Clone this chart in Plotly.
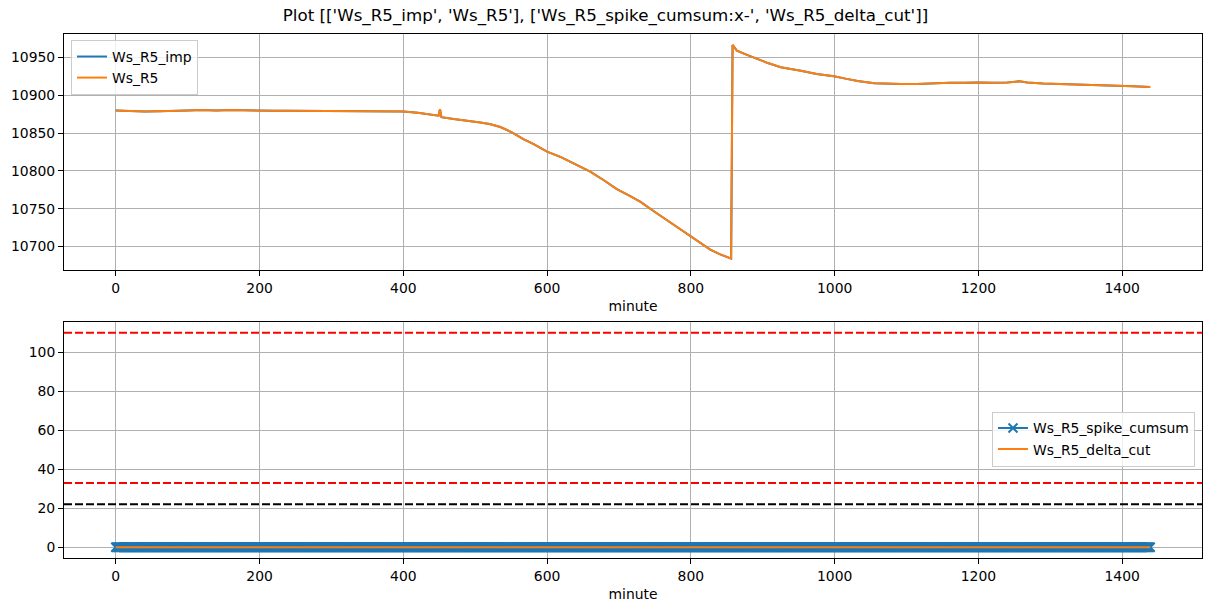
import plotly.graph_objects as go

# ---- data ----
minute_pts = [0, 20, 40, 60, 80, 100, 120, 140, 160, 180, 200, 220, 240, 260, 280, 300,
              320, 340, 360, 380, 400, 420, 440, 449, 451, 453, 470, 490, 507, 520, 535,
              551, 567, 580, 600, 620, 637, 660, 680, 697, 715, 730, 748, 765, 781, 799,
              815, 827, 840, 855, 856, 858, 864, 878, 895, 906, 925, 940, 953, 975, 999,
              1015, 1032, 1055, 1075, 1092, 1115, 1138, 1160, 1180, 1199, 1220, 1240,
              1257, 1268, 1290, 1310, 1324, 1345, 1370, 1394, 1415, 1439]
ws_r5 = [10880, 10879.5, 10878.5, 10879, 10879, 10880, 10880.5, 10880, 10880.5, 10880,
         10879.5, 10879.5, 10879.5, 10879.5, 10879, 10879.5, 10879.5, 10879.5, 10879.5,
         10879, 10878.5, 10877, 10874.5, 10873, 10881.5, 10871, 10868.5, 10866.5, 10864,
         10862, 10858, 10851, 10842, 10836, 10825.5, 10818, 10810, 10799, 10787, 10776,
         10767, 10759, 10747, 10736, 10726, 10715, 10704, 10696, 10690, 10684, 10684,
         10966.5, 10959, 10953.5, 10947, 10943, 10937, 10935, 10932.5, 10928, 10925,
         10922, 10919, 10916, 10915, 10915, 10915, 10916, 10916.5, 10916.5, 10917,
         10916.5, 10917, 10918.5, 10917, 10915.5, 10915, 10915, 10914, 10913.5, 10913,
         10912, 10911]
ws_r5_imp = list(ws_r5)

minutes = list(range(0, 1440))
spike_cumsum = [0] * len(minutes)
delta_cut = [0] * len(minutes)

hlines_red = [110, 33]
hlines_black = [22]

x_ticks = [0, 200, 400, 600, 800, 1000, 1200, 1400]
top_y_ticks = [10700, 10750, 10800, 10850, 10900, 10950]
bot_y_ticks = [0, 20, 40, 60, 80, 100]

title = "Plot [['Ws_R5_imp', 'Ws_R5'], ['Ws_R5_spike_cumsum:x-', 'Ws_R5_delta_cut']]"

BLUE = "#1f77b4"
ORANGE = "#ff7f0e"
FONT = "DejaVu Sans"
W, H = 1211, 611
FS = 13.9

fig = go.Figure()
fig.add_trace(go.Scatter(x=minute_pts, y=ws_r5_imp, mode="lines", name="Ws_R5_imp",
                         line=dict(color=BLUE, width=2), xaxis="x", yaxis="y", legend="legend"))
fig.add_trace(go.Scatter(x=minute_pts, y=ws_r5, mode="lines", name="Ws_R5",
                         line=dict(color=ORANGE, width=2), xaxis="x", yaxis="y", legend="legend"))
fig.add_trace(go.Scatter(x=minutes, y=spike_cumsum, mode="lines+markers", name="Ws_R5_spike_cumsum",
                         line=dict(color=BLUE, width=2),
                         marker=dict(symbol="x-thin", size=9, color=BLUE, line=dict(color=BLUE, width=2)),
                         xaxis="x2", yaxis="y2", legend="legend2"))
fig.add_trace(go.Scatter(x=minutes, y=delta_cut, mode="lines", name="Ws_R5_delta_cut",
                         line=dict(color=ORANGE, width=2), xaxis="x2", yaxis="y2", legend="legend2"))

for v in hlines_red:
    fig.add_shape(type="line", xref="x2 domain", yref="y2", x0=0, x1=1, y0=v, y1=v,
                  line=dict(color="#ff0000", width=2, dash="8px,3px"))
for v in hlines_black:
    fig.add_shape(type="line", xref="x2 domain", yref="y2", x0=0, x1=1, y0=v, y1=v,
                  line=dict(color="#000000", width=2, dash="8px,3px"))

xdom = [64 / W, 1202 / W]
top_dom = [1 - 270 / H, 1 - 34 / H]
bot_dom = [1 - 558 / H, 1 - 322 / H]

axis_common = dict(showline=True, linecolor="black", linewidth=1, mirror=True,
                   ticks="outside", ticklen=5, tickcolor="black", tickwidth=1,
                   showgrid=True, gridcolor="#b0b0b0", gridwidth=1, zeroline=False,
                   automargin=False, tickformat="d",
                   tickfont=dict(family=FONT, size=FS, color="black"))

fig.update_layout(
    width=W, height=H,
    margin=dict(l=0, r=0, t=0, b=0),
    paper_bgcolor="white", plot_bgcolor="white",
    font=dict(family=FONT, size=FS, color="black"),
    title=dict(text=title, x=0.5, xanchor="center", y=1 - 15 / H, yanchor="middle",
               font=dict(family=FONT, size=16.7, color="black")),
    xaxis=dict(domain=xdom, anchor="y", range=[-72, 1511], tickvals=x_ticks,
               title=dict(text="minute", standoff=6, font=dict(size=FS)), **axis_common),
    yaxis=dict(domain=top_dom, anchor="x", range=[10669, 10981], tickvals=top_y_ticks, **axis_common),
    xaxis2=dict(domain=xdom, anchor="y2", range=[-72, 1511], tickvals=x_ticks,
                title=dict(text="minute", standoff=6, font=dict(size=FS)), **axis_common),
    yaxis2=dict(domain=bot_dom, anchor="x2", range=[-5.5, 115.5], tickvals=bot_y_ticks, **axis_common),
    legend=dict(x=71 / W, y=1 - 40 / H, xanchor="left", yanchor="top",
                bgcolor="rgba(255,255,255,0.8)", bordercolor="#cccccc", borderwidth=1,
                font=dict(family=FONT, size=FS)),
    legend2=dict(x=1195 / W, y=1 - 439 / H, xanchor="right", yanchor="middle",
                 bgcolor="rgba(255,255,255,0.8)", bordercolor="#cccccc", borderwidth=1,
                 font=dict(family=FONT, size=FS)),
    showlegend=True,
)

fig.write_html("out.html", config={"displayModeBar": False},
               post_script="document.body.style.margin='0px';")
